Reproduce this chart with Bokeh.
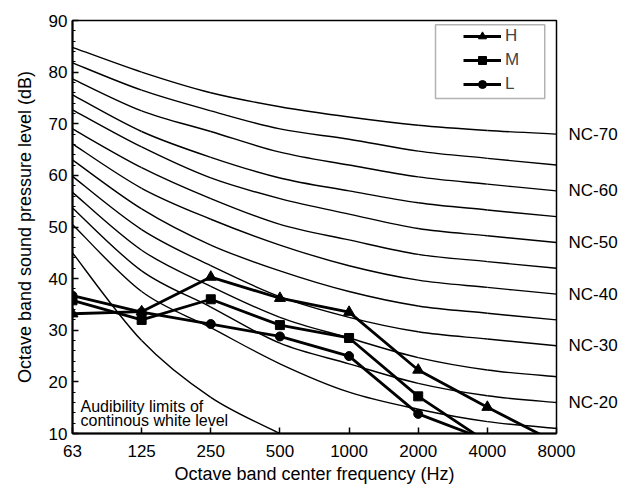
from bokeh.plotting import figure
from bokeh.models import (Range1d, FixedTicker, SingleIntervalTicker, LinearAxis,
                          Legend, LegendItem, ColumnDataSource, BoxAnnotation)
from bokeh.embed import file_html
from bokeh.resources import INLINE
from bokeh.core.properties import value

# ---------------- data ----------------
freq_labels = ["63", "125", "250", "500", "1000", "2000", "4000", "8000"]

nc_15 = [50.5, 37.5, 30.5, 23.5, 18.0, 14.7, 12.3, 11.0]
nc_20 = [53.7, 41.5, 34.5, 27.5, 23.5, 19.7, 17.3, 16.0]
nc_25 = [56.7, 45.5, 38.5, 32.5, 28.5, 24.7, 22.3, 21.0]
nc_30 = [59.8, 49.5, 42.5, 36.5, 32.5, 29.7, 28.3, 27.0]
nc_35 = [63.0, 53.5, 46.5, 41.5, 37.5, 34.7, 33.3, 32.0]
nc_40 = [66.1, 57.5, 51.5, 46.5, 42.5, 39.7, 38.3, 37.0]
nc_45 = [69.0, 61.5, 55.5, 50.5, 47.5, 44.7, 43.3, 42.0]
nc_50 = [72.7, 65.5, 59.5, 55.5, 52.5, 49.7, 48.3, 47.0]
nc_55 = [75.6, 68.5, 63.5, 59.5, 57.0, 54.7, 53.3, 52.0]
nc_60 = [78.7, 72.5, 68.5, 64.5, 62.0, 59.7, 58.3, 57.0]
nc_65 = [81.8, 76.5, 72.5, 69.0, 67.0, 64.7, 63.3, 62.0]
nc_70 = [84.8, 80.0, 76.0, 73.3, 71.3, 69.7, 68.7, 68.0]

audibility = [45.0, 28.0, 17.0, 10.0]

h_level = [33.2, 33.6, 40.3, 36.2, 33.5, 22.3, 15.1, 8.2]
m_level = [35.8, 32.0, 36.0, 31.0, 28.5, 17.2, 8.3]
l_level = [36.7, 33.5, 31.2, 28.8, 25.0, 13.8, 8.7]

nc_curves = [nc_15, nc_20, nc_25, nc_30, nc_35, nc_40,
             nc_45, nc_50, nc_55, nc_60, nc_65, nc_70]
nc_labelled = {"NC-70": nc_70, "NC-60": nc_60, "NC-50": nc_50,
               "NC-40": nc_40, "NC-30": nc_30, "NC-20": nc_20}

FONT = "Liberation Sans"


def bezier_segments(xs, ys, out):
    pts = list(zip(xs, ys))
    n = len(pts)
    for i in range(n - 1):
        p0 = pts[i - 1] if i > 0 else pts[i]
        p1 = pts[i]
        p2 = pts[i + 1]
        p3 = pts[i + 2] if i + 2 < n else pts[i + 1]
        out["x0"].append(p1[0]); out["y0"].append(p1[1])
        out["x1"].append(p2[0]); out["y1"].append(p2[1])
        out["cx0"].append(p1[0] + (p2[0] - p0[0]) / 6.0)
        out["cy0"].append(p1[1] + (p2[1] - p0[1]) / 6.0)
        out["cx1"].append(p2[0] - (p3[0] - p1[0]) / 6.0)
        out["cy1"].append(p2[1] - (p3[1] - p1[1]) / 6.0)


p = figure(width=629, height=486,
           x_range=Range1d(0, 7), y_range=Range1d(10, 90),
           output_backend="svg", toolbar_location=None,
           min_border_left=72, min_border_right=73,
           min_border_top=20, min_border_bottom=53,
           background_fill_color="white", border_fill_color="white",
           outline_line_color="black", outline_line_width=1.5)
p.grid.visible = False

# NC curves (smooth)
seg = {k: [] for k in ("x0", "y0", "x1", "y1", "cx0", "cy0", "cx1", "cy1")}
for curve in nc_curves:
    bezier_segments(list(range(len(curve))), curve, seg)
bezier_segments(list(range(len(audibility))), audibility, seg)
p.bezier(x0="x0", y0="y0", x1="x1", y1="y1", cx0="cx0", cy0="cy0",
         cx1="cx1", cy1="cy1", source=ColumnDataSource(seg),
         line_color="black", line_width=1.4)

# Measured series
series = [("H", h_level, "triangle", 11), ("M", m_level, "square", 9),
          ("L", l_level, "circle", 9)]
items = []
for name, vals, marker, size in series:
    xs = list(range(len(vals)))
    ln = p.line(xs, vals, line_color="black", line_width=2.8)
    mx = [x for x, v in zip(xs, vals) if v >= 10]
    my = [v for v in vals if v >= 10]
    sc = p.scatter(mx, my, marker=marker, size=size,
                   fill_color="black", line_color="black")
    items.append(LegendItem(label=name, renderers=[ln, sc]))

# Note text
p.text(x=[0.116, 0.116], y=[15.3, 12.55],
       text=["Audibility limits of", "continous white level"],
       text_font=value(FONT), text_font_size=value("16px"),
       text_baseline="alphabetic", text_align="left", text_color="black")

# Axes
xa = p.xaxis[0]
xa.ticker = FixedTicker(ticks=list(range(len(freq_labels))))
xa.major_label_overrides = {i: lab for i, lab in enumerate(freq_labels)}
xa.axis_label = "Octave band center frequency (Hz)"
ya = p.yaxis[0]
ya.ticker = SingleIntervalTicker(interval=10, num_minor_ticks=5)
ya.axis_label = "Octave band sound pressure level (dB)"
ya.minor_tick_in = 3
ya.minor_tick_out = 0
ya.minor_tick_line_color = "black"
xa.minor_tick_line_color = None
for ax in (xa, ya):
    ax.axis_line_color = "black"
    ax.axis_line_width = 2
    ax.major_tick_line_color = "black"
    ax.major_tick_line_width = 1.5
    ax.major_tick_in = 6
    ax.major_tick_out = 0
    ax.major_label_text_font = FONT
    ax.major_label_text_font_size = "17px"
    ax.major_label_text_color = "black"
    ax.axis_label_text_font = FONT
    ax.axis_label_text_font_size = "18px"
    ax.axis_label_text_font_style = "normal"
    ax.axis_label_text_color = "black"
xa.major_label_standoff = 11
xa.axis_label_standoff = 4
ya.major_label_standoff = 5
ya.axis_label_standoff = 11

ra = LinearAxis(ticker=FixedTicker(ticks=[c[-1] for c in nc_labelled.values()]),
                major_label_overrides={c[-1]: k for k, c in nc_labelled.items()},
                axis_line_color=None, major_tick_line_color=None,
                minor_tick_line_color=None, major_label_standoff=6,
                major_label_text_font=FONT, major_label_text_font_size="17px",
                major_label_text_color="black")
p.add_layout(ra, "right")

# Legend
box = BoxAnnotation(left=5.25, right=6.83, top=89.2, bottom=74.9,
                    fill_color="white", fill_alpha=1.0,
                    line_color="black", line_width=1.5)
p.add_layout(box)
legend = Legend(items=items, location=(389, 337), glyph_width=38,
                glyph_height=20, spacing=4, padding=2, margin=0,
                label_standoff=4, label_height=20,
                label_text_font=FONT, label_text_font_size="17px",
                background_fill_alpha=0, border_line_alpha=0)
p.add_layout(legend)

open("out.html", "w").write(file_html(p, INLINE))
